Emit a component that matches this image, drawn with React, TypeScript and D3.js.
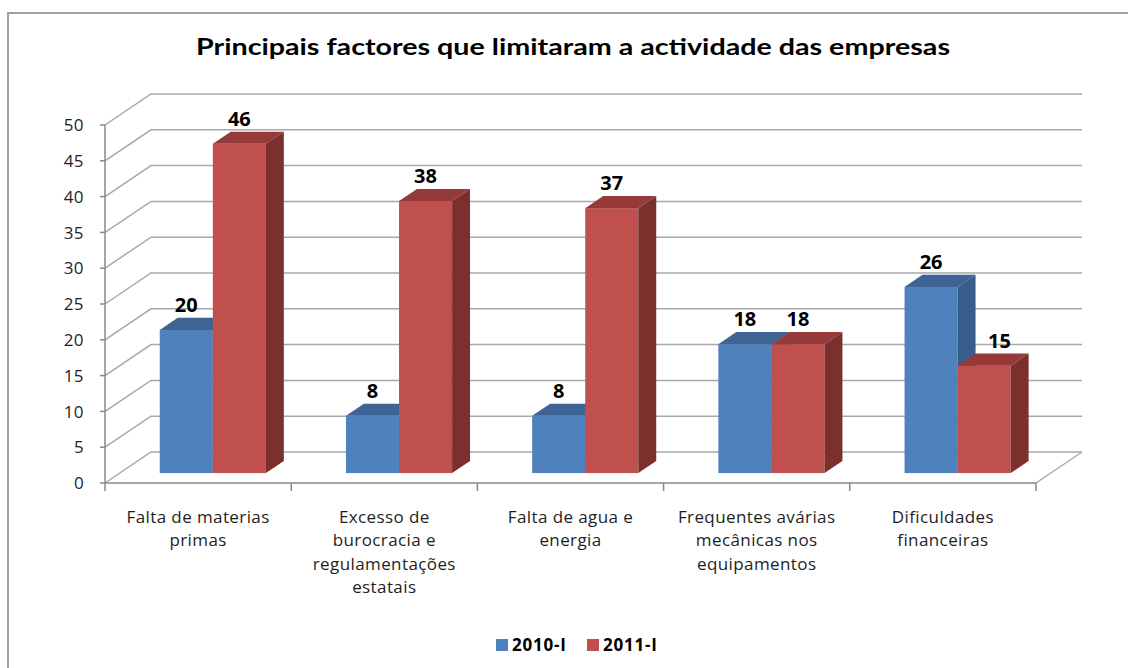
import React from "react";
import * as d3 from "d3";

const categories: string[][] = [
  ["Falta de materias", "primas"],
  ["Excesso de", "burocracia e", "regulamentações", "estatais"],
  ["Falta de agua e", "energia"],
  ["Frequentes avárias", "mecânicas nos", "equipamentos"],
  ["Dificuldades", "financeiras"],
];
const values2010: number[] = [20, 8, 8, 18, 26];
const values2011: number[] = [46, 38, 37, 18, 15];
const seriesNames: string[] = ["2010-I", "2011-I"];
const yTicks: number[] = [0, 5, 10, 15, 20, 25, 30, 35, 40, 45, 50];
const title = "Principais factores que limitaram a actividade das empresas";

const W = 1128;
const H = 668;
const FONT = "Lato, 'Open Sans', 'Noto Sans', sans-serif";
const FONT2 = "'Open Sans', 'Noto Sans', sans-serif";

const colors = [
  { front: "#4F81BD", top: "#3D6494", side: "#375D8A" },
  { front: "#C0504D", top: "#953A38", side: "#7B302E" },
];

export default function App() {
  const x0 = 105, x1 = 1036, baseY = 483, topY = 125;
  const DX = 46, DY = -31;
  const f0 = 0.32, f1 = 0.71;
  const y = d3.scaleLinear().domain([0, 50]).range([baseY, topY]);
  const band = d3.scaleBand<number>().domain(categories.map((_, i) => i)).range([x0, x1]).padding(0);
  const bw = band.bandwidth();
  const barW = bw * 0.285;
  const ox = f0 * DX, oy = f0 * DY;
  const ddx = (f1 - f0) * DX, ddy = (f1 - f0) * DY;
  const series = [values2010, values2011];

  const grid = yTicks.map((t) => {
    const yy = y(t);
    return (
      <g key={"g" + t}>
        <path d={`M${x0},${yy}L${x0 + DX},${yy + DY}L${x1 + DX},${yy + DY}`} fill="none" stroke="#a8a8a8" strokeWidth={1.5} />
        <line x1={x0 - 5} x2={x0} y1={yy} y2={yy} stroke="#888" strokeWidth={1.5} />
        <text x={84} y={yy} dy="0.36em" textAnchor="end" fontFamily={FONT2} fontSize={17} letterSpacing={0.4} fill="#1e1e2a">{t}</text>
      </g>
    );
  });

  const bars: React.ReactNode[] = [];
  categories.forEach((_, i) => {
    const cx = (band(i) as number) + bw / 2 + ox;
    series.forEach((vals, s) => {
      const v = vals[i];
      const left = s === 0 ? cx - barW : cx;
      const right = left + barW;
      const yt = y(v) + oy;
      const yb = y(0) + oy;
      const c = colors[s];
      bars.push(
        <g key={`b${i}-${s}`}>
          <rect x={left} y={yt} width={barW} height={yb - yt} fill={c.front} />
          <path d={`M${left},${yt}L${left + ddx},${yt + ddy}L${right + ddx},${yt + ddy}L${right},${yt}Z`} fill={c.top} />
          <path d={`M${right},${yt}L${right + ddx},${yt + ddy}L${right + ddx},${yb + ddy}L${right},${yb}Z`} fill={c.side} />
        </g>
      );
    });
  });

  const labels: React.ReactNode[] = [];
  categories.forEach((_, i) => {
    const cx = (band(i) as number) + bw / 2 + ox;
    series.forEach((vals, s) => {
      const v = vals[i];
      const left = s === 0 ? cx - barW : cx;
      const yt = y(v) + oy + ddy;
      const shift = s === 1 && values2010[i] > v ? ddx * 0.85 : 0;
      labels.push(
        <text key={`l${i}-${s}`} x={left + barW / 2 + shift} y={yt - 6} textAnchor="middle" fontFamily={FONT2} fontWeight="bold" fontSize={20} fill="#000">{v}</text>
      );
    });
  });

  const catLabels = categories.map((lines, i) => {
    const cx = (band(i) as number) + bw / 2;
    return (
      <text key={"c" + i} textAnchor="middle" fontFamily={FONT2} fontSize={17} letterSpacing={0.4} fill="#1e1e1e">
        {lines.map((ln, j) => (
          <tspan key={j} x={cx} y={517 + j * 23.5} dy="0.35em">{ln}</tspan>
        ))}
      </text>
    );
  });

  const ticksX = d3.range(categories.length + 1).map((k) => x0 + k * bw);

  return (
    <svg width={W} height={H} style={{ position: "absolute", left: 0, top: 0, background: "#fff" }}>
      <rect x={0} y={0} width={W} height={H} fill="#fff" />
      <path d={`M8,${H}L8,13L${W},13`} fill="none" stroke="#a0a0a0" strokeWidth={2} />
      <text x={573} y={47} dy="0.35em" textAnchor="middle" fontFamily={FONT} fontWeight="bold" fontSize={23} textLength={754} lengthAdjust="spacingAndGlyphs" fill="#000">{title}</text>
      {grid}
      <path d={`M${x1},${baseY}L${x1 + DX},${baseY + DY}`} stroke="#a8a8a8" strokeWidth={1.5} fill="none" />
      <line x1={x0} x2={x0} y1={topY} y2={baseY} stroke="#888" strokeWidth={1.5} />
      <line x1={x0} x2={x1} y1={baseY} y2={baseY} stroke="#888" strokeWidth={1.5} />
      {ticksX.map((tx, k) => (
        <line key={"t" + k} x1={tx} x2={tx} y1={baseY} y2={baseY + 8} stroke="#888" strokeWidth={1.5} />
      ))}
      {bars}
      {labels}
      {catLabels}
      <g fontFamily={FONT2} fontWeight="bold" fontSize={17} fill="#000">
        <rect x={496} y={639} width={12} height={12} fill={colors[0].front} />
        <text x={512} y={645} dy="0.36em" letterSpacing={0.8}>{seriesNames[0]}</text>
        <rect x={587} y={639} width={12} height={12} fill={colors[1].front} />
        <text x={603} y={645} dy="0.36em" letterSpacing={0.8}>{seriesNames[1]}</text>
      </g>
    </svg>
  );
}
